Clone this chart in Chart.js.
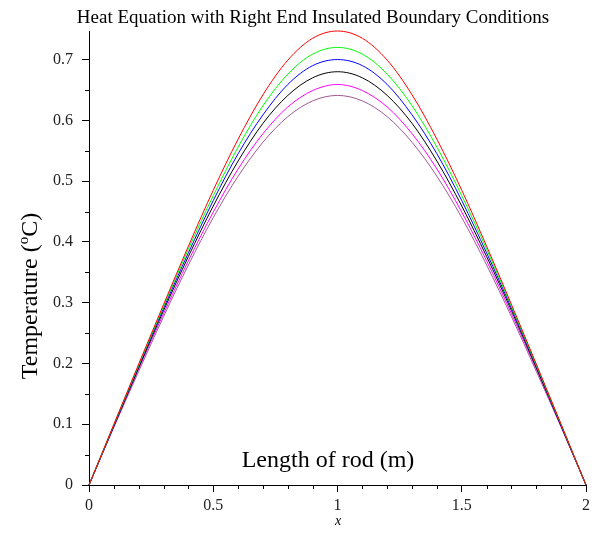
<!DOCTYPE html>
<html>
<head>
<meta charset="utf-8">
<script src="https://cdn.jsdelivr.net/npm/chart.js@4"></script>
<style>
html, body { margin: 0; padding: 0; background: #fff; }
#wrap { width: 594px; height: 540px; }
</style>
</head>
<body>
<div id="wrap"><canvas id="chart" width="594" height="540"></canvas></div>
<script>
// positions along the rod (m)
const xValues = [0, 0.1, 0.2, 0.3, 0.4, 0.5, 0.6, 0.7, 0.8, 0.9, 1.0,
                 1.1, 1.2, 1.3, 1.4, 1.5, 1.6, 1.7, 1.8, 1.9, 2.0];

// temperature profiles (one per time)
const redCurve     = [0, 0.100, 0.199, 0.297, 0.393, 0.485, 0.569, 0.642, 0.699, 0.735, 0.747,
                      0.735, 0.699, 0.642, 0.569, 0.485, 0.393, 0.297, 0.199, 0.100, 0];
const greenCurve   = [0, 0.099, 0.197, 0.294, 0.388, 0.476, 0.556, 0.624, 0.676, 0.709, 0.720,
                      0.709, 0.676, 0.624, 0.556, 0.476, 0.388, 0.294, 0.197, 0.099, 0];
const blueCurve    = [0, 0.098, 0.196, 0.291, 0.382, 0.468, 0.545, 0.609, 0.659, 0.690, 0.700,
                      0.690, 0.659, 0.609, 0.545, 0.468, 0.382, 0.291, 0.196, 0.098, 0];
const blackCurve   = [0, 0.097, 0.193, 0.287, 0.376, 0.459, 0.533, 0.595, 0.641, 0.670, 0.680,
                      0.670, 0.641, 0.595, 0.533, 0.459, 0.376, 0.287, 0.193, 0.097, 0];
const magentaCurve = [0, 0.096, 0.191, 0.282, 0.369, 0.449, 0.520, 0.578, 0.622, 0.649, 0.659,
                      0.649, 0.622, 0.578, 0.520, 0.449, 0.369, 0.282, 0.191, 0.096, 0];
const plumCurve    = [0, 0.095, 0.187, 0.277, 0.362, 0.440, 0.508, 0.564, 0.606, 0.632, 0.641,
                      0.632, 0.606, 0.564, 0.508, 0.440, 0.362, 0.277, 0.187, 0.095, 0];

// tick labels
const xTicks = [0, 0.5, 1, 1.5, 2];
const yTicks = [0, 0.1, 0.2, 0.3, 0.4, 0.5, 0.6, 0.7];
const xMinorTicks = [0.1, 0.2, 0.3, 0.4, 0.6, 0.7, 0.8, 0.9, 1.1, 1.2, 1.3, 1.4, 1.6, 1.7, 1.8, 1.9];
const yMinorTicks = [0.05, 0.15, 0.25, 0.35, 0.45, 0.55, 0.65];

const titleText = "Heat Equation with Right End Insulated Boundary Conditions";
const xInsideLabel = "Length of rod (m)";

function toPoints(ys) {
    return xValues.map((x, i) => ({ x: x, y: ys[i] }));
}

function line(ys, color) {
    return {
        data: toPoints(ys),
        borderColor: color,
        borderWidth: 1,
        pointRadius: 0,
        fill: false,
        cubicInterpolationMode: 'monotone',
        clip: false
    };
}

const extras = {
    id: 'extras',
    afterDraw(chart) {
        const ctx = chart.ctx;
        const xs = chart.scales.x;
        const ys = chart.scales.y;
        ctx.save();
        // minor ticks
        ctx.strokeStyle = '#000';
        ctx.lineWidth = 1;
        ctx.beginPath();
        xMinorTicks.forEach(v => {
            const px = Math.round(xs.getPixelForValue(v)) + 0.5;
            ctx.moveTo(px, ys.bottom);
            ctx.lineTo(px, ys.bottom + 4);
        });
        yMinorTicks.forEach(v => {
            const py = Math.round(ys.getPixelForValue(v)) + 0.5;
            ctx.moveTo(xs.left, py);
            ctx.lineTo(xs.left - 4, py);
        });
        ctx.stroke();

        ctx.fillStyle = '#000';
        ctx.textAlign = 'center';
        ctx.textBaseline = 'middle';
        ctx.font = '19px "Liberation Serif"';
        ctx.fillText(titleText, 313, 18);

        ctx.font = '24px "Liberation Serif"';
        ctx.fillText(xInsideLabel, 328, 461);

        ctx.font = 'italic 14px "Liberation Serif"';
        ctx.fillText('x', 338, 521);

        // y title with superscript o
        ctx.translate(29, 296);
        ctx.rotate(-Math.PI / 2);
        ctx.textAlign = 'left';
        ctx.textBaseline = 'alphabetic';
        const big = '24px "Liberation Serif"';
        const small = '15px "Liberation Serif"';
        ctx.font = big;
        const w1 = ctx.measureText('Temperature (').width;
        const w3 = ctx.measureText('C)').width;
        ctx.font = small;
        const w2 = ctx.measureText('o').width;
        let x0 = -(w1 + w2 + w3) / 2;
        ctx.font = big;
        ctx.fillText('Temperature (', x0, 8);
        ctx.font = small;
        ctx.fillText('o', x0 + w1, -1);
        ctx.font = big;
        ctx.fillText('C)', x0 + w1 + w2, 8);
        ctx.restore();
    }
};

const chart = document.querySelector('#chart');
new Chart(chart, {
    type: 'line',
    data: {
        datasets: [
            line(redCurve, '#ff0000'),
            line(greenCurve, '#00ff00'),
            line(blueCurve, '#0000ff'),
            line(blackCurve, '#000000'),
            line(magentaCurve, '#ff00ff'),
            line(plumCurve, '#9e5a94')
        ]
    },
    options: {
        responsive: false,
        animation: false,
        devicePixelRatio: 1,
        layout: { padding: { top: 31, right: 7, left: 0, bottom: 0 } },
        plugins: {
            legend: { display: false },
            title: { display: false },
            tooltip: { enabled: false }
        },
        scales: {
            x: {
                type: 'linear',
                min: 0,
                max: 2,
                afterFit: (scale) => { scale.height = 55; },
                afterBuildTicks: (scale) => { scale.ticks = xTicks.map(v => ({ value: v })); },
                grid: { drawOnChartArea: false, tickLength: 7, tickColor: '#000' },
                border: { color: '#000', width: 1 },
                ticks: {
                    color: '#222',
                    padding: 4,
                    maxRotation: 0,
                    font: { family: '"Liberation Serif"', size: 16 },
                    callback: (v) => String(v)
                }
            },
            y: {
                type: 'linear',
                min: 0,
                max: 0.747,
                afterFit: (scale) => { scale.width = 89; },
                afterBuildTicks: (scale) => { scale.ticks = yTicks.map(v => ({ value: v })); },
                grid: { drawOnChartArea: false, tickLength: 7, tickColor: '#000' },
                border: { color: '#000', width: 1 },
                ticks: {
                    color: '#222',
                    padding: 9,
                    font: { family: '"Liberation Serif"', size: 16 },
                    callback: (v) => String(v)
                }
            }
        }
    },
    plugins: [extras]
});
</script>
</body>
</html>
